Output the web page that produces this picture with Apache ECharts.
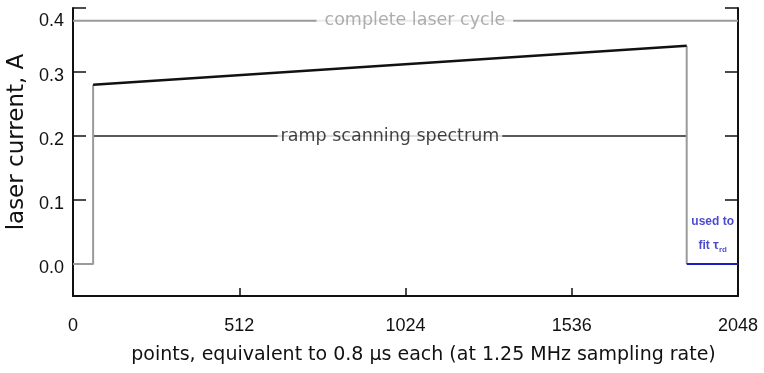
<!DOCTYPE html>
<html>
<head>
<meta charset="utf-8">
<script src="https://cdn.jsdelivr.net/npm/echarts@6/dist/echarts.min.js"></script>
<style>
  html, body { margin: 0; padding: 0; background: #fff; }
  #chart { width: 764px; height: 373px; }
</style>
</head>
<body>
<div id="chart"></div>
<script>
// Laser current waveform over one acquisition cycle (points)
const xTicks = [0, 512, 1024, 1536, 2048];
const yTicks = [0, 0.1, 0.2, 0.3, 0.4];

// Off period before the ramp, then the step up
const offSegment = [[0, 0], [62, 0], [62, 0.28]];
// Linear current ramp
const rampSegment = [[62, 0.28], [1890, 0.341]];
// Drop back to zero at the end of the ramp
const dropSegment = [[1890, 0.341], [1890, 0]];
// Ring-down tail (zero current)
const tailSegment = [[1890, 0], [2048, 0]];

// Annotation bars and their captions
const cycleBar = [[0, 0.38], [2048, 0.38]];
const cycleLabel = [1053, 0.38];
const scanBar = [[62, 0.2], [1890, 0.2]];
const scanLabel = [976, 0.2];
const fitLabel = [1970, 0.047];

const TICK_FONT = '"Liberation Sans", Arial, Helvetica, sans-serif';
const TEXT_FONT = '"DejaVu Sans", Verdana, sans-serif';
const GRAY = '#9a9a9a';
const BLUE = '#1c1cc4';

function lineSeries(data, color, width, z) {
  return {
    type: 'line', data: data, symbol: 'none', silent: true, z: z || 2,
    lineStyle: { color: color, width: width }, animation: false
  };
}
function textPoint(pt, text, style) {
  return {
    type: 'scatter', data: [pt], symbolSize: 0, silent: true, z: 5, animation: false,
    label: Object.assign({ show: true, position: 'inside', formatter: text }, style)
  };
}

const chart = echarts.init(document.getElementById('chart'));
chart.setOption({
  animation: false,
  grid: { left: 73, right: 26, top: 8, bottom: 77, containLabel: false, outerBoundsMode: 'none' },
  xAxis: {
    type: 'value', min: 0, max: 2048, interval: 512,
    name: 'points, equivalent to 0.8 \u03bcs each (at 1.25 MHz sampling rate)',
    nameLocation: 'middle', nameGap: 50,
    nameTextStyle: { fontFamily: TEXT_FONT, fontSize: 19, color: '#111', verticalAlign: 'top', padding: [0, 0, 0, 36] },
    axisLine: { show: true, onZero: false, lineStyle: { color: '#111', width: 2 } },
    axisTick: { show: true, inside: true, length: 8, lineStyle: { color: '#111', width: 1.5 } },
    axisLabel: { show: true, margin: 21, fontFamily: TICK_FONT, fontSize: 18, color: '#111',
      showMinLabel: true, showMaxLabel: true, formatter: v => xTicks.includes(v) ? String(v) : '' },
    splitLine: { show: false }
  },
  yAxis: [{
    type: 'value', min: -0.05, max: 0.4, position: 'left',
    name: 'laser current, A', nameLocation: 'middle', nameGap: 42,
    nameTextStyle: { fontFamily: TEXT_FONT, fontSize: 23, color: '#111', padding: [0, 0, 0, 20] },
    axisLine: { show: true, onZero: false, lineStyle: { color: '#111', width: 2 } },
    axisTick: { show: true, inside: true, length: 13, customValues: yTicks, lineStyle: { color: '#111', width: 1.5 } },
    axisLabel: {
      show: true, margin: 9, customValues: yTicks, fontFamily: TICK_FONT, fontSize: 18, color: '#111',
      formatter: v => v >= 0.39 ? '{top|' + v.toFixed(1) + '}' : '{n|' + v.toFixed(1) + '}',
      rich: {
        n: { fontFamily: TICK_FONT, fontSize: 18, color: '#111', padding: [8, 0, 0, 0] },
        top: { fontFamily: TICK_FONT, fontSize: 18, color: '#111', padding: [26, 0, 0, 0] }
      }
    },
    splitLine: { show: false }
  }, {
    type: 'value', min: -0.05, max: 0.4, position: 'right',
    axisLine: { show: true, onZero: false, lineStyle: { color: '#111', width: 2 } },
    axisTick: { show: true, inside: true, length: 13, customValues: yTicks, lineStyle: { color: '#111', width: 1.5 } },
    axisLabel: { show: false },
    splitLine: { show: false }
  }],
  series: [
    lineSeries(cycleBar, GRAY, 2, 1),
    lineSeries(scanBar, '#222', 1.5, 1),
    lineSeries(offSegment, GRAY, 2),
    lineSeries(dropSegment, GRAY, 2),
    lineSeries(rampSegment, '#111', 2.5, 3),
    lineSeries(tailSegment, BLUE, 2, 3),
    textPoint(cycleLabel, 'complete laser cycle', { fontFamily: TEXT_FONT, fontSize: 17.5, color: GRAY, backgroundColor: '#fff', padding: [2, 8] }),
    textPoint(scanLabel, 'ramp scanning spectrum', { fontFamily: TEXT_FONT, fontSize: 17.5, color: '#111', backgroundColor: '#fff', padding: [2, 3] }),
    textPoint(fitLabel, '{b|used to}\n{b|fit }{t|\u03c4}{s|rd}', {
      lineHeight: 24,
      rich: {
        b: { fontFamily: TICK_FONT, fontSize: 12, fontWeight: 'bold', color: BLUE, lineHeight: 24 },
        t: { fontFamily: TICK_FONT, fontSize: 13, fontWeight: 'bold', color: BLUE, lineHeight: 24 },
        s: { fontFamily: TICK_FONT, fontSize: 8, fontWeight: 'bold', color: BLUE, lineHeight: 24, padding: [8, 0, 0, 0] }
      }
    })
  ]
});
</script>
</body>
</html>
